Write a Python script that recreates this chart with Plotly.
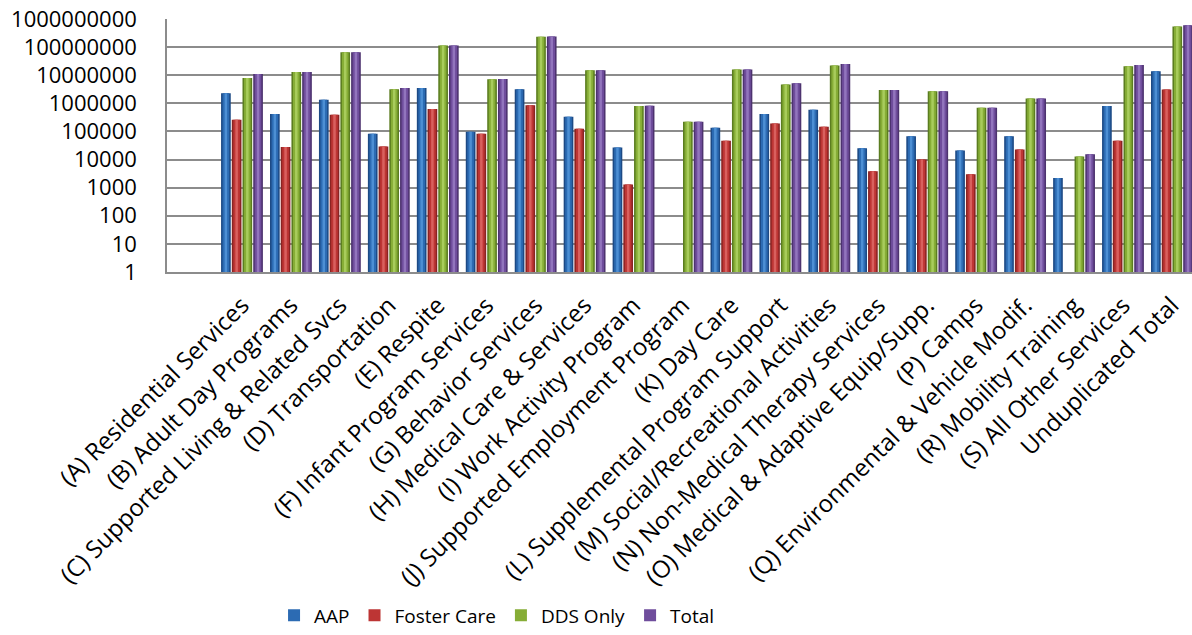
import plotly.graph_objects as go

categories = [
    "(A) Residential Services",
    "(B) Adult Day Programs",
    "(C) Supported Living & Related Svcs",
    "(D) Transportation",
    "(E) Respite",
    "(F) Infant Program Services",
    "(G) Behavior Services",
    "(H) Medical Care & Services",
    "(I) Work Activity Program",
    "(J) Supported Employment Program",
    "(K) Day Care",
    "(L) Supplemental Program Support",
    "(M) Social/Recreational Activities",
    "(N) Non-Medical Therapy Services",
    "(O) Medical & Adaptive Equip/Supp.",
    "(P) Camps",
    "(Q) Environmental & Vehicle Modif.",
    "(R) Mobility Training",
    "(S) All Other Services",
    "Unduplicated Total",
]

aap = [2.3e6, 4.2e5, 1.35e6, 8.3e4, 3.5e6, 9.8e4, 3.2e6, 3.3e5, 2.7e4, None,
       1.35e5, 4.2e5, 5.9e5, 2.5e4, 6.7e4, 2.1e4, 6.7e4, 2.2e3, 8.1e5, 1.38e7]
foster_care = [2.6e5, 2.8e4, 3.9e5, 2.9e4, 6.3e5, 8.3e4, 8.5e5, 1.25e5, 1.3e3, None,
               4.7e4, 1.9e5, 1.48e5, 3.8e3, 1.0e4, 3.0e3, 2.3e4, None, 4.7e4, 3.1e6]
dds_only = [7.9e6, 1.3e7, 6.5e7, 3.2e6, 1.14e8, 7.2e6, 2.36e8, 1.5e7, 8.1e5, 2.2e5,
            1.6e7, 4.7e6, 2.2e7, 2.96e6, 2.7e6, 6.9e5, 1.5e6, 1.29e4, 2.1e7, 5.4e8]
total = [1.1e7, 1.3e7, 6.6e7, 3.5e6, 1.15e8, 7.3e6, 2.4e8, 1.5e7, 8.2e5, 2.2e5,
         1.6e7, 5.2e6, 2.5e7, 3.0e6, 2.7e6, 7.0e5, 1.5e6, 1.55e4, 2.3e7, 6.0e8]

y_ticks = [1, 10, 100, 1000, 10000, 100000, 1000000, 10000000, 100000000, 1000000000]

# name, values, edge shade, body shade, highlight shade
series = [
    ("AAP", aap, "#1d4a85", "#2c6bb3", "#4d8fd4"),
    ("Foster Care", foster_care, "#8a2423", "#bd3534", "#d9605e"),
    ("DDS Only", dds_only, "#5b7d20", "#86ad36", "#a8cc5c"),
    ("Total", total, "#4d336f", "#6f4d9c", "#9275bd"),
]

slot = 0.219       # distance between bar centres inside a group
bar_w = 0.198      # full bar width (category units)

fig = go.Figure()
for i, (name, vals, edge, body, light) in enumerate(series):
    centre = (i - 1.5) * slot
    # three layers of decreasing width give each bar a rounded, cylinder-like shading
    for layer, (w, col) in enumerate([(bar_w, edge), (bar_w * 0.68, body), (bar_w * 0.26, light)]):
        fig.add_trace(go.Bar(
            x=categories,
            y=vals,
            name=name,
            width=w,
            offset=centre - w / 2,
            marker=dict(color=col, line=dict(width=0)),
            showlegend=(layer == 1),
            legendgroup=name,
            hoverinfo="skip" if layer != 1 else None,
        ))

fig.update_layout(
    width=1192,
    height=635,
    barmode="overlay",
    plot_bgcolor="white",
    paper_bgcolor="white",
    margin=dict(l=167, r=0, t=19, b=361),
    font=dict(family="Open Sans", color="black"),
    legend=dict(
        orientation="h",
        x=0.322,
        xanchor="center",
        y=-1.357,
        yanchor="middle",
        font=dict(size=19),
        itemwidth=30,
        traceorder="normal",
    ),
)

fig.update_yaxes(
    type="log",
    range=[0, 9],
    tickvals=y_ticks,
    ticktext=[str(v) for v in y_ticks],
    tickfont=dict(size=22),
    showgrid=True,
    gridcolor="#8c8c8c",
    gridwidth=1.5,
    showline=True,
    linecolor="#8c8c8c",
    linewidth=1.5,
    ticks="",
    ticklabelstandoff=24,
    zeroline=False,
)

fig.update_xaxes(
    type="category",
    range=[-1.532, 19.41],
    tickangle=-45,
    tickfont=dict(size=24),
    showgrid=False,
    showline=True,
    linecolor="#8c8c8c",
    linewidth=1.5,
    ticks="",
    ticklabelstandoff=8,
)

fig.write_html("out.html")
